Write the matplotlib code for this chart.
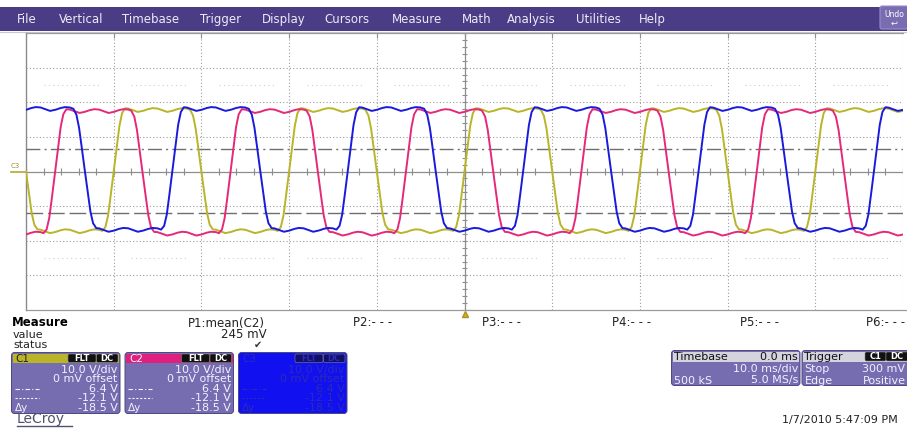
import numpy as np
import matplotlib.pyplot as plt
from matplotlib.patches import Rectangle, FancyBboxPatch

# ---- acquisition: 10 ms/div, 10 V/div, three channels ----
t_ms = np.arange(-50.0, 50.001, 0.05)

# zero crossings of each trace (ms, relative to trigger)
c1_rise = [-40.0, -20.0, 0.0, 20.0, 40.0]
c1_fall = [-50.0, -30.0, -10.0, 10.0, 30.0]
c2_rise = [-46.7, -26.7, -6.7, 13.3, 33.3]
c2_fall = [-36.7, -16.7, 3.3, 23.3, 43.3]
c3_rise = [-33.3, -13.3, 6.7, 26.7, 46.7]
c3_fall = [-43.3, -23.3, -3.3, 16.7, 36.7]

# plateau levels (V): high, low
c1_level = (17.8, -17.2)
c2_level = (17.5, -17.9)
c3_level = (18.1, -16.8)

# edge shape: time from crossing (ms) vs fraction of the swing
edge_dt = [-1.3, -0.95, -0.65, -0.3, 0.0, 0.3, 0.65, 0.95, 1.3]
edge_frac = [0.0, 0.04, 0.14, 0.33, 0.5, 0.67, 0.86, 0.96, 1.0]

# 300 Hz ripple riding on the plateaus, one cycle
ripple_phase = [0.0, 0.55, 1.1, 1.65, 2.2, 2.75, 3.333]
ripple_v = [-0.3, 0.2, 0.5, 0.4, -0.1, -0.6, -0.3]

# cursors
cursor_dashdot = 6.4
cursor_dashed = -12.1

# ---- readouts ----
menu_items = ["File", "Vertical", "Timebase", "Trigger", "Display", "Cursors",
              "Measure", "Math", "Analysis", "Utilities", "Help"]
menu_x = [17, 59, 122, 200, 262, 324, 392, 462, 507, 576, 639]

param_labels = ["P1:mean(C2)", "P2:- - -", "P3:- - -", "P4:- - -", "P5:- - -", "P6:- - -"]
param_value = "245 mV"

chan_names = ["C1", "C2", "C3"]
chan_rows = ["10.0 V/div", "0 mV offset", "6.4 V", "-12.1 V", "-18.5 V"]

timebase_rows = [("Timebase", "0.0 ms"), ("", "10.0 ms/div"), ("500 kS", "5.0 MS/s")]
trigger_rows = [("Trigger", ""), ("Stop", "300 mV"), ("Edge", "Positive")]
timestamp = "1/7/2010 5:47:09 PM"

YEL = "#b9b428"
PINK = "#e6287a"
BLUE = "#1a1adc"
LAV = "#766cb0"
GRID = "#9c9c9c"


def build(rises, falls, level):
    hi, lo = level
    start_high = min(falls) < min(rises)
    frac = np.full(t_ms.shape, 1.0 if start_high else 0.0)
    for r in rises:
        frac += np.interp(t_ms - r, edge_dt, edge_frac)
    for f in falls:
        frac -= np.interp(t_ms - f, edge_dt, edge_frac)
    ripple = np.interp((t_ms + 50.0) % 3.333, ripple_phase, ripple_v)
    return lo + (hi - lo) * frac + ripple


W, H = 907, 428
fig = plt.figure(figsize=(W / 100, H / 100), dpi=100)
fig.patch.set_facecolor("white")

ui = fig.add_axes([0, 0, 1, 1])
ui.set_xlim(0, W)
ui.set_ylim(H, 0)
ui.axis("off")

# menu bar
ui.add_patch(Rectangle((0, 7), W, 24, fc="#4b3c86", ec="none"))
for name, x in zip(menu_items, menu_x):
    ui.text(x, 19.5, name, color="#eeeaf8", fontsize=8.5, va="center", ha="left")
ui.add_patch(FancyBboxPatch((880, 6), 32, 23, boxstyle="round,pad=0,rounding_size=2",
                            fc="#7a6cb0", ec="#9a8ed0", lw=0.8))
ui.text(894, 14, "Undo", color="white", fontsize=5.5, ha="center", va="center")
ui.text(894, 23, "\u21a9", color="white", fontsize=6, ha="center", va="center")
ui.plot([0, W], [31.5, 31.5], color="#c8c8d0", lw=0.8)

# ---- scope grid ----
x0, x1, y0, y1 = 26, 903, 33, 310
ax = fig.add_axes([x0 / W, 1 - y1 / H, (x1 - x0) / W, (y1 - y0) / H])
ax.set_xlim(-50, 50)
ax.set_ylim(-40, 40)
ax.axis("off")

dots = (0, (1, 2))
for xv in np.arange(-40, 51, 10):
    if xv != 0:
        ax.axvline(xv, color=GRID, lw=0.8, ls=dots, zorder=1)
for yv in np.arange(-30, 31, 10):
    if yv != 0:
        ax.axhline(yv, color=GRID, lw=0.8, ls=dots, zorder=1)
ax.axhline(0, color="#8e8e8e", lw=0.9, zorder=1)
ax.axvline(0, color="#8e8e8e", lw=0.9, zorder=1)
ax.vlines(np.arange(-50, 50.1, 2), -1.0, 1.0, color="#8e8e8e", lw=0.8, zorder=1)
ax.hlines(np.arange(-40, 40.1, 2), -0.25, 0.25, color="#8e8e8e", lw=0.8, zorder=1)
ax.vlines(np.arange(-50, 50.1, 10), 38.5, 40, color="#8e8e8e", lw=0.8, zorder=1)

# faint half-division marks
for d in np.arange(-50, 50, 10):
    ax.hlines([25, -25], d + 2, d + 8.5, color="#cfcfcf", lw=0.8, ls=(0, (1, 3)), zorder=1)

# frame
ax.plot([-50, -50], [-40, 40], color="#8a8a8a", lw=1.0, clip_on=False, zorder=2)
ax.plot([-50, 50], [40, 40], color="#9a9a9a", lw=0.9, clip_on=False, zorder=2)
ax.plot([-50, 50.5], [-40, -40], color="#9a9a9a", lw=0.9, clip_on=False, zorder=2)

# cursors
ax.axhline(cursor_dashdot, color="#6e6e6e", lw=1.0, ls=(0, (10, 3, 1.5, 3)), zorder=2)
ax.axhline(cursor_dashed, color="#6e6e6e", lw=1.0, ls=(0, (12, 3.5)), zorder=2)

# traces
ax.plot(t_ms, build(c1_rise, c1_fall, c1_level), color=YEL, lw=1.4, zorder=3)
ax.plot(t_ms, build(c2_rise, c2_fall, c2_level), color=PINK, lw=1.4, zorder=4)
ax.plot(t_ms, build(c3_rise, c3_fall, c3_level), color=BLUE, lw=1.4, zorder=5)

# channel ground marker and trigger position
ui.text(15, 166.5, "C3", color="#a09030", fontsize=5, ha="center", va="center")
ui.plot([11, 26], [171.5, 171.5], color="#b8a830", lw=1.2)
ui.plot([465], [313.5], marker="^", ms=5, color="#c8b428", mec="#a89420")

# ---- measure table ----
ui.text(12, 323, "Measure", fontsize=8.5, fontweight="bold", va="center", ha="left")
ui.text(13, 334.5, "value", fontsize=8, color="#222222", va="center", ha="left")
ui.text(13, 345.5, "status", fontsize=8, color="#222222", va="center", ha="left")
param_x = [188, 353, 482, 612, 740, 866]
for lab, x in zip(param_labels, param_x):
    ui.text(x, 323, lab, fontsize=8.5, color="#222222", va="center", ha="left")
ui.text(267, 334.5, param_value, fontsize=8.5, color="#222222", va="center", ha="right")
ui.text(258, 345, "\u2714", fontsize=7, color="#333333", va="center", ha="center")


def badge(x, y, w, h, label, fc, tc):
    ui.add_patch(FancyBboxPatch((x, y), w, h, boxstyle="round,pad=0,rounding_size=1.5",
                                fc=fc, ec="#888888", lw=0.4))
    ui.text(x + w / 2, y + h / 2 + 0.3, label, color=tc, fontsize=6, fontweight="bold",
            ha="center", va="center")


def chan_box(x, name, head, body, txt, badge_fc, badge_tc):
    top, bot, w = 352.5, 413.5, 108.5
    ui.add_patch(FancyBboxPatch((x, top), w, bot - top, boxstyle="round,pad=0,rounding_size=3",
                                fc=body, ec="#4c4880", lw=0.7))
    ui.add_patch(Rectangle((x + 1, top + 1), w - 2, 9.5, fc=head, ec="none"))
    name_col = "#222222" if name == "C1" else txt
    ui.text(x + 4, top + 6, name, color=name_col, fontsize=7.5, va="center", ha="left")
    badge(x + 56.5, top + 1.5, 28, 8.5, "FLT", badge_fc, badge_tc)
    badge(x + 85, top + 1.5, 21.5, 8.5, "DC", badge_fc, badge_tc)
    rows_y = [370, 379.3, 389, 398.3, 407.7]
    for s, yy in zip(chan_rows, rows_y):
        ui.text(x + w - 2.5, yy, s, color=txt, fontsize=8, va="center", ha="right")
    ui.plot([x + 3, x + 27], [389, 389], color=txt, lw=0.8, ls=(0, (4, 2, 1, 2)))
    ui.plot([x + 3, x + 27], [398.3, 398.3], color=txt, lw=0.8, ls=(0, (2, 1.5)))
    ui.text(x + 3, 407.7, "\u0394y", color=txt, fontsize=7.5, va="center", ha="left")


chan_box(11.5, chan_names[0], YEL, LAV, "#f2f0ff", "#111111", "white")
chan_box(125, chan_names[1], "#e0207e", LAV, "#f2f0ff", "#111111", "white")
chan_box(238.5, chan_names[2], "#1010f0", "#1010f0", "#2c2cb4", "#10106a", "#2c2cb4")

ui.text(17, 419.5, "LeCroy", color="#505070", fontsize=10, va="center", ha="left")
ui.plot([17, 72], [426, 426], color="#505070", lw=1.0)


def info_box(x, w, rows, right_x, hdr_badges=False):
    top, bot = 350.5, 385.5
    ui.add_patch(FancyBboxPatch((x, top), w, bot - top, boxstyle="round,pad=0,rounding_size=3",
                                fc=LAV, ec="#4c4880", lw=0.7))
    ui.add_patch(Rectangle((x + 1, top + 1), w - 2, 10.5, fc="#d4d3de", ec="none"))
    ys = [357, 369, 380.5]
    for (left, right), yy, k in zip(rows, ys, range(3)):
        col = "#111111" if k == 0 else "#f2f0ff"
        if left:
            ui.text(x + 2.5, yy, left, color=col, fontsize=8, va="center", ha="left")
        if right:
            ui.text(right_x, yy, right, color=col, fontsize=8, va="center", ha="right")
    if hdr_badges:
        badge(x + 63, top + 1.5, 21, 9, "C1", "#111111", "white")
        badge(x + 84, top + 1.5, 22, 9, "DC", "#111111", "white")


info_box(671.5, 128.5, timebase_rows, 798)
info_box(802, 120, trigger_rows, 905.5, hdr_badges=True)

ui.text(898, 420, timestamp, color="#222222", fontsize=8, va="center", ha="right")

fig.savefig("out.png", dpi=100, facecolor="white")
